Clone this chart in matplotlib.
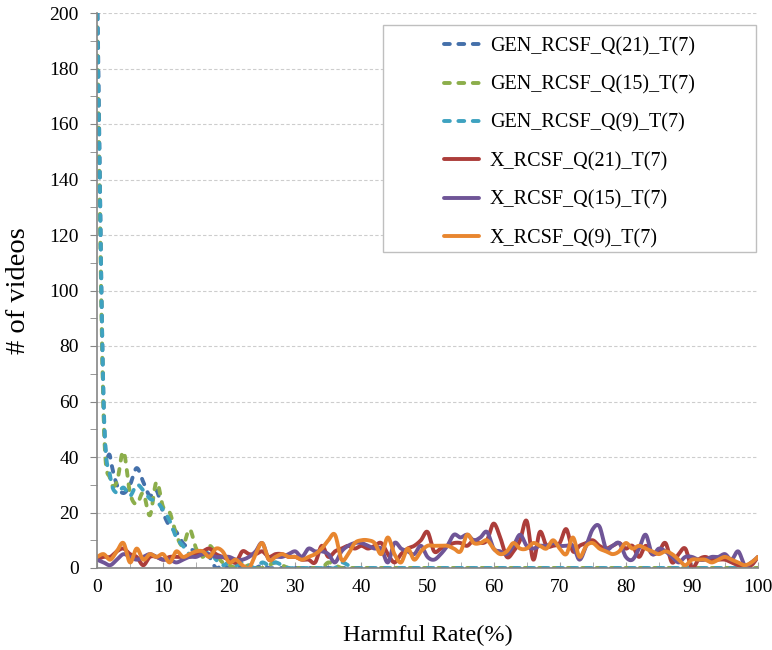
import numpy as np
import matplotlib
matplotlib.use("Agg")
import matplotlib.pyplot as plt
from matplotlib.patches import Rectangle
from matplotlib.ticker import MultipleLocator

plt.rcParams['font.family'] = ['Liberation Serif', 'DejaVu Serif']

# Harmful rate (%) 0..100
harmful_rate = list(range(101))

gen_q21 = [215, 58, 40, 30, 27, 30, 36, 31, 26, 28,
           20, 15, 13, 9, 7, 6, 5, 4, 0, 1,
           0, 1, 0, 0, 0, 1, 0, 0, 0, 0,
           0, 0, 0, 0, 0, 0, 0, 0, 0, 0,
           0, 0, 0, 0, 0, 0, 0, 0, 0, 0,
           0, 0, 0, 0, 0, 0, 0, 0, 0, 0,
           0, 0, 0, 0, 0, 0, 0, 0, 0, 0,
           0, 0, 0, 0, 0, 0, 0, 0, 0, 0,
           0, 0, 0, 0, 0, 0, 0, 0, 0, 0,
           0, 0, 0, 0, 0, 0, 0, 0, 0, 0,
           0]
gen_q15 = [195, 55, 32, 31, 42, 27, 23, 27, 19, 31,
           22, 20, 12, 8, 14, 7, 4, 8, 5, 2,
           1, 0, 0, 1, 0, 0, 1, 2, 1, 0,
           0, 0, 0, 0, 0, 2, 1, 0, 0, 0,
           0, 0, 0, 0, 0, 0, 0, 0, 0, 0,
           0, 0, 0, 0, 0, 0, 0, 0, 0, 0,
           0, 0, 0, 0, 0, 0, 0, 0, 0, 0,
           0, 0, 0, 0, 0, 0, 0, 0, 0, 0,
           0, 0, 0, 0, 0, 0, 0, 0, 0, 0,
           0, 0, 0, 0, 0, 0, 0, 0, 0, 0,
           0]
gen_q9 = [205, 60, 33, 27, 29, 26, 30, 28, 25, 24,
          21, 17, 11, 8, 5, 6, 5, 6, 3, 1,
          2, 1, 2, 1, 0, 2, 1, 2, 1, 0,
          0, 0, 0, 0, 0, 0, 0, 2, 1, 0,
          0, 0, 0, 0, 0, 0, 0, 0, 0, 0,
          0, 0, 0, 0, 0, 0, 0, 0, 0, 0,
          0, 0, 0, 0, 0, 0, 0, 0, 0, 0,
          0, 0, 0, 0, 0, 0, 0, 0, 0, 0,
          0, 0, 0, 0, 0, 0, 0, 0, 0, 0,
          0, 0, 0, 0, 0, 0, 0, 0, 0, 0,
          0]
x_q21 = [3, 4, 4, 6, 7, 5, 4, 1, 4, 4,
         3, 4, 4, 4, 4, 5, 6, 7, 5, 4,
         3, 2, 6, 5, 5, 6, 4, 5, 5, 4,
         4, 3, 3, 2, 8, 4, 6, 7, 8, 7,
         8, 7, 8, 9, 5, 2, 5, 7, 8, 10,
         13, 6, 7, 8, 9, 9, 8, 10, 9, 10,
         16, 11, 4, 6, 10, 17, 3, 13, 8, 8,
         9, 14, 6, 8, 9, 10, 8, 7, 8, 9,
         7, 8, 4, 8, 5, 6, 9, 2, 5, 7,
         0, 3, 4, 3, 3, 3, 2, 1, 1, 1,
         4]
x_q15 = [3, 2, 1, 3, 5, 4, 3, 4, 5, 4,
         3, 3, 2, 3, 4, 4, 5, 5, 4, 4,
         4, 3, 3, 4, 6, 9, 3, 4, 4, 5,
         6, 4, 7, 6, 6, 5, 2, 6, 8, 9,
         9, 8, 7, 7, 2, 9, 7, 6, 5, 8,
         4, 3, 5, 8, 12, 11, 12, 10, 11, 13,
         7, 6, 5, 8, 12, 8, 7, 8, 8, 9,
         8, 8, 8, 3, 8, 14, 15, 7, 8, 9,
         4, 3, 7, 12, 5, 7, 6, 4, 2, 4,
         4, 3, 3, 4, 4, 5, 3, 6, 1, 2,
         4]
x_q9 = [4, 5, 3, 6, 9, 2, 7, 3, 5, 4,
        5, 2, 6, 4, 5, 6, 6, 4, 7, 6,
        2, 3, 1, 0, 5, 9, 3, 4, 5, 4,
        4, 3, 4, 5, 7, 10, 12, 3, 5, 9,
        10, 10, 9, 5, 11, 5, 2, 7, 3, 6,
        8, 8, 8, 8, 7, 6, 12, 9, 9, 10,
        7, 5, 6, 9, 7, 7, 9, 8, 7, 10,
        7, 5, 11, 4, 8, 9, 7, 6, 5, 6,
        9, 7, 8, 7, 6, 5, 6, 5, 3, 1,
        3, 3, 3, 2, 3, 4, 3, 2, 1, 2,
        4]

labels = ["GEN_RCSF_Q(21)_T(7)", "GEN_RCSF_Q(15)_T(7)", "GEN_RCSF_Q(9)_T(7)",
          "X_RCSF_Q(21)_T(7)", "X_RCSF_Q(15)_T(7)", "X_RCSF_Q(9)_T(7)"]
series = [gen_q21, gen_q15, gen_q9, x_q21, x_q15, x_q9]
colors = ["#4470AA", "#8CAE4B", "#3EA2C0", "#AC3D3A", "#6F5597", "#E8862F"]
dashed = [True, True, True, False, False, False]


def smooth(xs, ys, n=12):
    # catmull-rom like the smoothed lines of a spreadsheet chart
    x = np.asarray(xs, float)
    y = np.asarray(ys, float)
    mx = np.gradient(x)
    my = np.gradient(y)
    t = np.linspace(0, 1, n, endpoint=False)[:, None]
    h00 = 2 * t**3 - 3 * t**2 + 1
    h10 = t**3 - 2 * t**2 + t
    h01 = -2 * t**3 + 3 * t**2
    h11 = t**3 - t**2
    sx = h00 * x[:-1] + h10 * mx[:-1] + h01 * x[1:] + h11 * mx[1:]
    sy = h00 * y[:-1] + h10 * my[:-1] + h01 * y[1:] + h11 * my[1:]
    return np.append(sx.T.ravel(), x[-1]), np.append(sy.T.ravel(), y[-1])


fig = plt.figure(figsize=(7.72, 6.5), dpi=100)
ax = fig.add_axes([97 / 772, 1 - 568 / 650, (758 - 97) / 772, (568 - 13) / 650])

for vals, lab, col, dsh in zip(series, labels, colors, dashed):
    sx, sy = smooth(harmful_rate, vals)
    if dsh:
        ax.plot(sx, sy, color=col, lw=2.8, label=lab, dashes=(1.5, 2.2),
                dash_capstyle='round')
    else:
        ax.plot(sx, sy, color=col, lw=2.8, label=lab, solid_capstyle='round')

ax.set_xlim(0, 100)
ax.set_ylim(0, 200)
ax.xaxis.set_major_locator(MultipleLocator(10))
ax.xaxis.set_minor_locator(MultipleLocator(5))
ax.yaxis.set_major_locator(MultipleLocator(20))
ax.yaxis.set_minor_locator(MultipleLocator(10))

for s in ["top", "right"]:
    ax.spines[s].set_visible(False)
for s in ["left", "bottom"]:
    ax.spines[s].set_color("#868686")
    ax.spines[s].set_linewidth(1.2)

ax.tick_params(axis='x', which='both', direction='in', length=4, color="#A0A0A0",
               labelsize=14, pad=8)
ax.tick_params(axis='y', which='both', direction='out', length=5, color="#868686",
               labelsize=14, pad=8)
ax.grid(axis='y', which='major', color="#CDCDCD", linestyle=(0, (3, 2)), lw=0.8)
ax.set_axisbelow(True)

ax.set_xlabel("Harmful Rate(%)", fontsize=17.5, labelpad=21)
ax.set_ylabel("# of videos", fontsize=20.5, labelpad=13)

# legend box
bx0, bx1 = 383 / 772, 756 / 772
by0, by1 = 1 - 252 / 650, 1 - 25 / 650
box = Rectangle((bx0, by0), bx1 - bx0, by1 - by0, transform=fig.transFigure,
                facecolor="white", edgecolor="#BFBFBF", lw=1.0, zorder=5, clip_on=False)
ax.add_patch(box)
leg = ax.legend(loc='center', bbox_to_anchor=((bx0 + bx1) / 2, (by0 + by1) / 2 - 4 / 650),
                bbox_transform=fig.transFigure, frameon=False, fontsize=14.5,
                handlelength=1.7, handletextpad=0.55, labelspacing=0.95)
leg.set_zorder(6)

fig.savefig("out.png", dpi=100)
